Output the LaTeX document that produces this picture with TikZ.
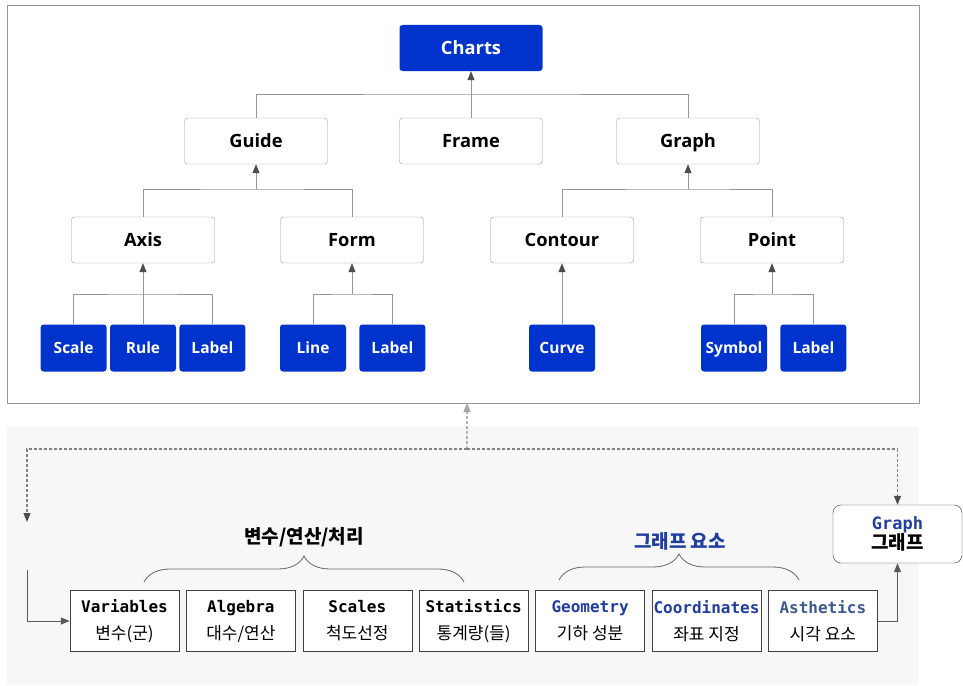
\documentclass[tikz,border=0pt]{standalone}
\usepackage{fontspec}
\setmainfont{Open Sans}
\newfontfamily\krfont{Noto Sans CJK KR}
\newfontfamily\monofont{DejaVu Sans Mono}
\usepackage{tikz}
\usetikzlibrary{arrows.meta,positioning,decorations.pathreplacing}

\definecolor{chartblue}{RGB}{0,51,204}
\definecolor{textblue}{RGB}{32,62,160}
\definecolor{paleblue}{RGB}{60,90,145}
\definecolor{treegray}{RGB}{150,150,150}
\definecolor{panelgray}{RGB}{247,247,247}

\begin{document}
\begin{tikzpicture}[
  x=1pt,y=-1pt,
  node distance=3pt,
  box/.style={draw=treegray,rounded corners=3pt,fill=white,minimum width=143pt,
    minimum height=46pt,text height=13pt,text depth=0pt,
    font=\fontsize{18.3}{20}\selectfont\bfseries},
  leaf/.style={fill=chartblue,rounded corners=3pt,minimum width=66pt,
    minimum height=47pt,text height=11pt,text depth=0pt,text=white,
    font=\fontsize{15.5}{18}\selectfont\bfseries},
  cell/.style={draw=black!75,fill=white,minimum width=109pt,minimum height=61pt,
    align=center,inner sep=0pt,font=\fontsize{16}{27}\selectfont},
  tree/.style={draw=treegray,line width=0.9pt},
  arrow/.style={tree,-{Triangle[length=9pt,width=7pt,color=black!70]}},
  flow/.style={draw=black!65,line width=1pt,-{Triangle[length=9pt,width=7pt]}},
  feed/.style={draw=black!50,line width=1.1pt,dash pattern=on 3pt off 2pt,
    -{Triangle[length=9pt,width=7pt,color=black!70]}},
  brace/.style={draw=black!60,line width=0.8pt,decorate,
    decoration={brace,amplitude=26pt}}
]
\useasboundingbox (0,0) rectangle (963,685);

% panels
\draw[treegray,fill=white] (7,5) rectangle (919,403);
\fill[panelgray] (7,427) rectangle (919,685);

% chart tree
\node[box,fill=chartblue,draw=none,text=white] (charts) at (471,48) {Charts};
\node[box] (guide) at (256,141) {Guide};
\node[box] (frame) at (471,141) {Frame};
\node[box] (graph) at (688,141) {Graph};
\node[box] (axis) at (143,240) {Axis};
\node[box] (form) at (352,240) {Form};
\node[box] (contour) at (562,240) {Contour};
\node[box] (point) at (772,240) {Point};

\node[leaf] (rule) at (143,348) {Rule};
\node[leaf,left=of rule] (scale) {Scale};
\node[leaf,right=of rule] (axislabel) {Label};
\node[leaf] (line) at (313,348) {Line};
\node[leaf,right=13pt of line] (formlabel) {Label};
\node[leaf] (curve) at (562,348) {Curve};
\node[leaf] (symbol) at (734,348) {Symbol};
\node[leaf,right=13pt of symbol] (pointlabel) {Label};

\coordinate (topbar) at (471,94);
\coordinate (guidebar) at (256,189);
\coordinate (graphbar) at (688,189);
\coordinate (axisbar) at (143,294);
\coordinate (formbar) at (352,294);
\coordinate (pointbar) at (772,294);

\draw[tree] (guide.north) |- (topbar) -| (graph.north);
\draw[arrow] (frame.north) -- (charts.south);
\draw[tree] (axis.north) |- (guidebar) -| (form.north);
\draw[arrow] (guidebar) -- (guide.south);
\draw[tree] (contour.north) |- (graphbar) -| (point.north);
\draw[arrow] (graphbar) -- (graph.south);
\draw[tree] (scale.north) |- (axisbar) -| (axislabel.north);
\draw[arrow] (rule.north) -- (axis.south);
\draw[tree] (line.north) |- (formbar) -| (formlabel.north);
\draw[arrow] (formbar) -- (form.south);
\draw[arrow] (curve.north) -- (contour.south);
\draw[tree] (symbol.north) |- (pointbar) -| (pointlabel.north);
\draw[arrow] (pointbar) -- (point.south);

% grammar row
\node[cell] (var) at (124.5,621) {{\monofont\bfseries Variables}\\{\krfont\fontsize{17}{27}\selectfont 변수(군)}};
\node[cell,right=7pt of var] (alg) {{\monofont\bfseries Algebra}\\{\krfont\fontsize{17}{27}\selectfont 대수/연산}};
\node[cell,right=7pt of alg] (scl) {{\monofont\bfseries Scales}\\{\krfont\fontsize{17}{27}\selectfont 척도선정}};
\node[cell,right=7pt of scl] (stat) {{\monofont\bfseries Statistics}\\{\krfont\fontsize{17}{27}\selectfont 통계량(들)}};
\node[cell,right=7pt of stat] (geom) {{\monofont\bfseries\color{textblue}Geometry}\\{\krfont\fontsize{17}{27}\selectfont 기하 성분}};
\node[cell,right=7pt of geom] (coord) {{\monofont\bfseries\color{textblue}Coordinates}\\{\krfont\fontsize{17}{27}\selectfont 좌표 지정}};
\node[cell,right=7pt of coord] (aes) {{\monofont\bfseries\color{paleblue}Asthetics}\\{\krfont\fontsize{17}{27}\selectfont 시각 요소}};

\node[draw=black!80,fill=white,rounded corners=8pt,minimum width=129pt,minimum height=58pt,
  align=center,inner sep=0pt] (graphk) at (897.5,534)
  {{\monofont\bfseries\fontsize{17}{24}\selectfont\color{textblue}Graph}\\{\krfont\bfseries\fontsize{19}{24}\selectfont 그래프}};

\draw[brace] (144,582) -- (464,582);
\node[font=\krfont\bfseries\fontsize{19}{22}\selectfont] (proclabel) at (304,537) {변수/연산/처리};
\draw[brace] (559,580) -- (799,580);
\node[font=\krfont\bfseries\fontsize{19}{22}\selectfont,text=textblue] (elemlabel) at (680,541) {그래프 요소};

% connectors
\coordinate (feedpt) at (467,449);
\coordinate (panelbase) at (467,403);
\coordinate (dropleft) at (27,522);
\coordinate (leftin) at (27,570);
\draw[feed,draw=black!30,-{Triangle[length=9pt,width=7pt,color=black!35]}] (feedpt) -- (panelbase);
\draw[feed] (feedpt) -| (dropleft);
\draw[feed] (feedpt) -| (graphk.north);
\draw[flow] (leftin) |- (var.west);
\draw[flow] (aes.east) -| (graphk.south);
\end{tikzpicture}
\end{document}
